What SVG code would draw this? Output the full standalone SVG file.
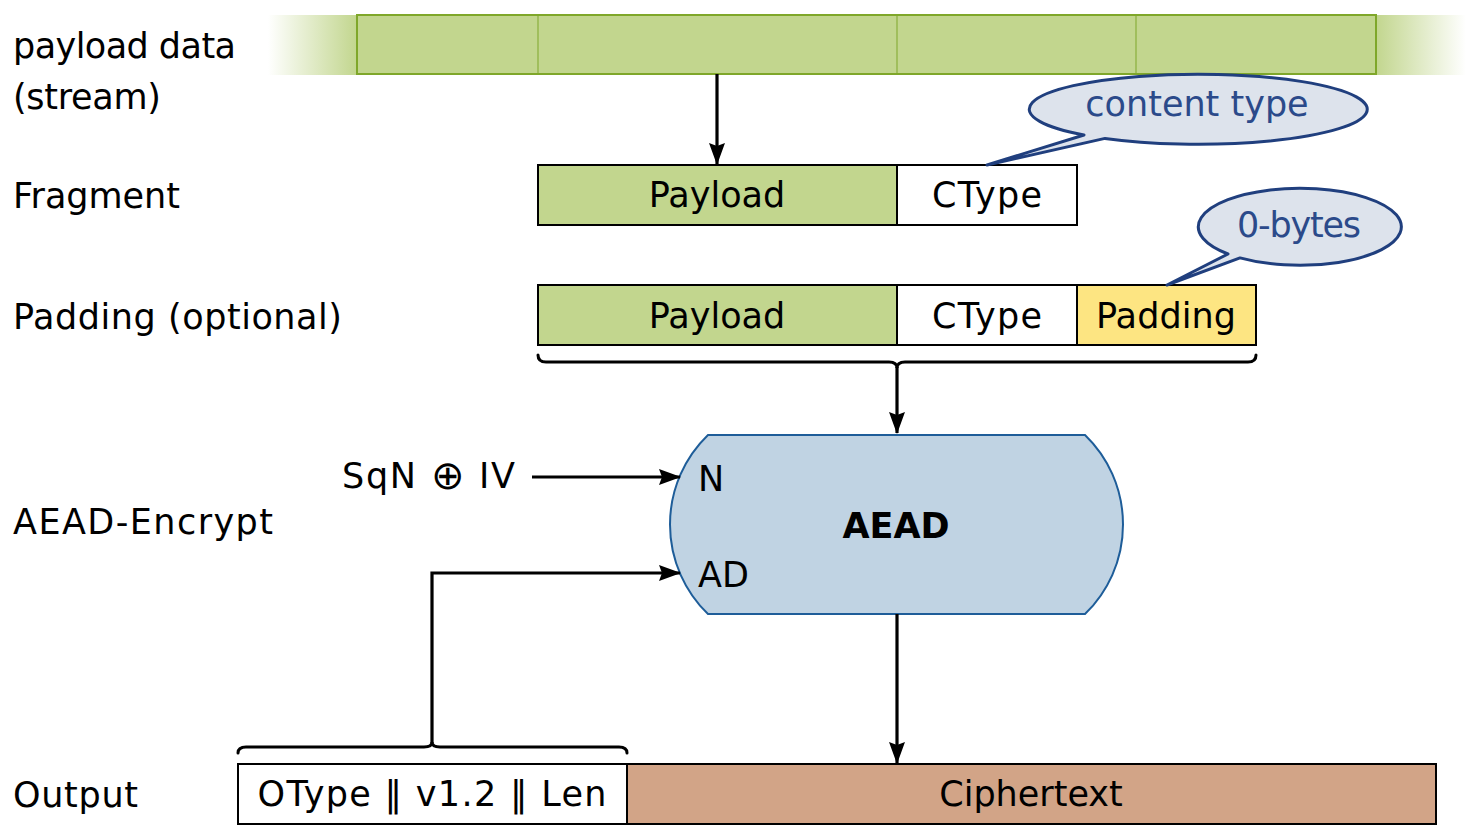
<svg xmlns="http://www.w3.org/2000/svg" width="1466" height="839" viewBox="0 0 1466 839">
<defs>
<linearGradient id="fadeL" x1="0" y1="0" x2="1" y2="0">
<stop offset="0" stop-color="#c2d68e" stop-opacity="0"/>
<stop offset="1" stop-color="#c2d68e" stop-opacity="1"/>
</linearGradient>
<linearGradient id="fadeR" x1="0" y1="0" x2="1" y2="0">
<stop offset="0" stop-color="#c2d68e" stop-opacity="1"/>
<stop offset="1" stop-color="#c2d68e" stop-opacity="0"/>
</linearGradient>
<marker id="arr" viewBox="0 0 22 16" refX="21" refY="8" markerWidth="22" markerHeight="16" markerUnits="userSpaceOnUse" orient="auto">
<path d="M0,0 L22,8 L0,16 L3,8 Z" fill="#000"/>
</marker>
<style>
text{font-family:"DejaVu Sans","Liberation Sans",sans-serif;font-size:35px;fill:#000}
.lbl{text-anchor:start}
.c{text-anchor:middle}
.green{fill:#c2d68e;stroke:#000;stroke-width:2}
.white{fill:#fff;stroke:#000;stroke-width:2}
.yellow{fill:#fde582;stroke:#000;stroke-width:2}
.cipher{fill:#d2a487;stroke:#000;stroke-width:2}
.call{fill:#dde3ec;stroke:#203f7e;stroke-width:3;stroke-linejoin:round}
.calltxt{fill:#2b4a8a;text-anchor:middle}
.conn{fill:none;stroke:#000;stroke-width:3.2}
.brace{fill:none;stroke:#000;stroke-width:3;stroke-linecap:round}
</style>
</defs>

<g id="labels">
<text class="lbl" x="13" y="58" textLength="223">payload data</text>
<text class="lbl" x="13" y="109" textLength="148">(stream)</text>
<text class="lbl" x="13" y="208" textLength="167">Fragment</text>
<text class="lbl" x="13" y="329" textLength="329">Padding (optional)</text>
<text class="lbl" x="13" y="534" textLength="260">AEAD-Encrypt</text>
<text class="lbl" x="13" y="807" textLength="125">Output</text>
</g>

<g id="stream">
<rect x="268" y="15" width="89" height="60" fill="url(#fadeL)"/>
<rect x="1376" y="15" width="90" height="60" fill="url(#fadeR)"/>
<rect x="357" y="15" width="1019" height="59" fill="#c2d68e" stroke="#7fa72a" stroke-width="2"/>
<line x1="538" y1="15" x2="538" y2="74" stroke="#7fa72a" stroke-width="1"/>
<line x1="897" y1="15" x2="897" y2="74" stroke="#7fa72a" stroke-width="1"/>
<line x1="1136" y1="15" x2="1136" y2="74" stroke="#7fa72a" stroke-width="1"/>
</g>

<g id="fragment">
<rect class="green" x="538" y="165" width="359" height="60"/>
<rect class="white" x="897" y="165" width="180" height="60"/>
<text class="c" x="717" y="207">Payload</text>
<text class="c" x="987" y="207" textLength="110">CType</text>
</g>

<g id="callout-content-type">
<path class="call" d="M1084,135 L987,165 L1105,138.4 A169,35 0 1 0 1084,135 Z"/>
<text class="calltxt" x="1197" y="116">content type</text>
</g>

<g id="padding">
<rect class="green" x="538" y="285" width="359" height="60"/>
<rect class="white" x="897" y="285" width="180" height="60"/>
<rect class="yellow" x="1077" y="285" width="179" height="60"/>
<text class="c" x="717" y="328">Payload</text>
<text class="c" x="987" y="328" textLength="110">CType</text>
<text class="c" x="1166" y="328" textLength="140">Padding</text>
</g>

<g id="callout-0-bytes">
<path class="call" d="M1228,254 L1167,285 L1240,257.9 A101.5,38.5 0 1 0 1228,254 Z"/>
<text class="calltxt" x="1299" y="237" textLength="124">0-bytes</text>
</g>

<g id="aead">
<path d="M708,435 L1085,435 A124.4,124.4 0 0 1 1085,614 L708,614 A124.4,124.4 0 0 1 708,435 Z" fill="#c0d3e3" stroke="#1e5d99" stroke-width="2"/>
<text class="c" x="896" y="538" font-weight="bold" font-size="39">AEAD</text>
<text x="698" y="491">N</text>
<text x="698" y="587">AD</text>
</g>

<g id="nonce">
<text x="342" y="488" textLength="173">SqN <tspan font-size="40" font-weight="200" dy="1">⊕</tspan><tspan dy="-1"> IV</tspan></text>
</g>

<g id="output">
<rect class="white" x="238" y="764" width="389" height="60"/>
<rect class="cipher" x="627" y="764" width="809" height="60"/>
<text class="c" x="432" y="806" textLength="349">OType ‖ v1.2 ‖ Len</text>
<text class="c" x="1031" y="806">Ciphertext</text>
</g>

<g id="connectors">
<line class="conn" x1="717" y1="74" x2="717" y2="164" marker-end="url(#arr)"/>
<path class="brace" d="M538,355 q0,7 8,7 L889,362 q8,0 8,6 q0,-6 8,-6 L1248,362 q8,0 8,-7"/>
<line class="conn" x1="897" y1="367" x2="897" y2="433" marker-end="url(#arr)"/>
<line class="conn" x1="532" y1="477" x2="680" y2="477" marker-end="url(#arr)"/>
<path class="brace" d="M238,753 q0,-6 8,-6 L424,747 q8,0 8,-5 q0,5 8,5 L619,747 q8,0 8,6"/>
<path class="conn" d="M432,743 L432,573 L680,573" marker-end="url(#arr)"/>
<line class="conn" x1="897" y1="614" x2="897" y2="763" marker-end="url(#arr)"/>
</g>
</svg>
